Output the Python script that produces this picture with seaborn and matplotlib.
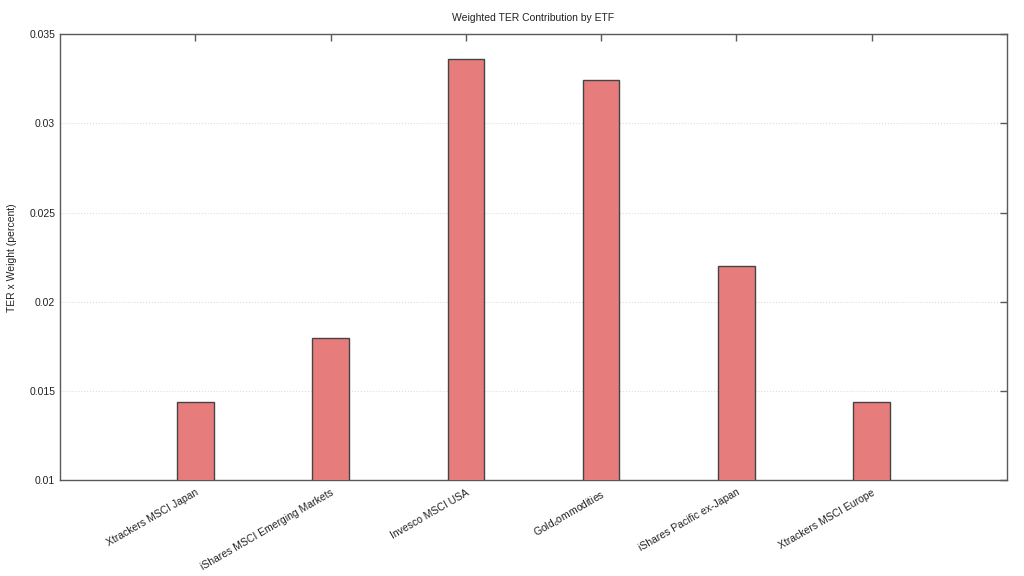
import numpy as np
import pandas as pd
import matplotlib
matplotlib.use("Agg")
import matplotlib.pyplot as plt
import seaborn as sns
from matplotlib.ticker import FuncFormatter

etfs = ['Xtrackers MSCI Japan', 'iShares MSCI Emerging Markets', 'Invesco MSCI USA',
        'Gold$_{c}$ommodities', 'iShares Pacific ex-Japan', 'Xtrackers MSCI Europe']
weighted_ter = [0.0144, 0.0180, 0.0336, 0.0324, 0.0220, 0.0144]

sns.set_style("white")
plt.rcParams['font.family'] = ['Liberation Sans', 'DejaVu Sans']
plt.rcParams['mathtext.default'] = 'regular'

df = pd.DataFrame({'etf': etfs, 'ter': weighted_ter})

fig = plt.figure(figsize=(10.24, 5.76), dpi=100)
ax = fig.add_axes([0.0586, 0.1658, 0.9248, 0.7752])

sns.barplot(data=df, x='etf', y='ter', color='#e77c7c', saturation=1,
            width=0.27, edgecolor='#444444', linewidth=1, ax=ax, zorder=3)

ax.set_xlim(-1, 6)
ax.set_ylim(0.01, 0.035)
ax.set_yticks([0.01, 0.015, 0.02, 0.025, 0.03, 0.035])
ax.yaxis.set_major_formatter(FuncFormatter(lambda v, _: f'{v:g}'))
ax.grid(axis='y', linestyle=':', color='#dddddd', linewidth=0.8, zorder=0)

for s in ax.spines.values():
    s.set_color('#5a5a5a')
    s.set_linewidth(1)
    s.set_visible(True)

ax.tick_params(axis='both', direction='in', length=5, width=1, color='#5a5a5a',
               labelsize=7.5, labelcolor='#222222', top=True, right=True)
ax.tick_params(axis='x', pad=5)
plt.setp(ax.get_xticklabels(), rotation=30, ha='right', rotation_mode='anchor')

ax.set_title('Weighted TER Contribution by ETF', fontsize=7.5, color='#222222', pad=9)
ax.set_xlabel('')
ax.set_ylabel('TER x Weight (percent)', fontsize=7.5, color='#222222', labelpad=9)

plt.savefig('out.png', dpi=100)
